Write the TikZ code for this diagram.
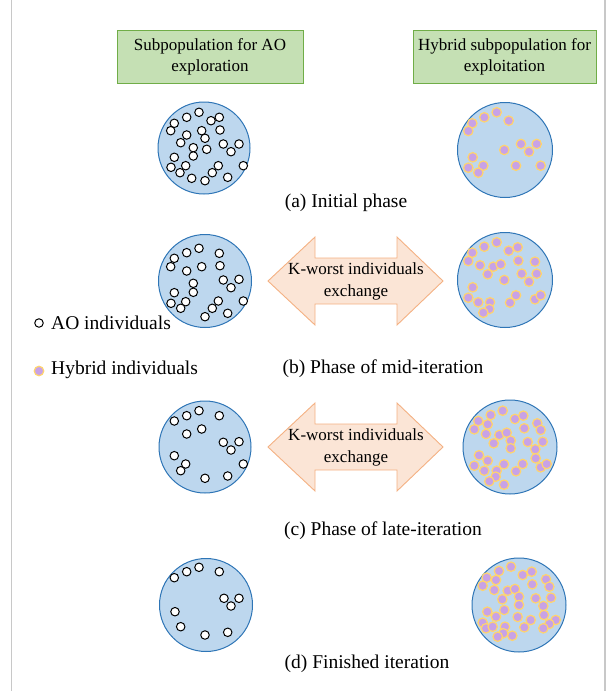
\documentclass[tikz,border=0pt]{standalone}
\usepackage{fontspec}
\setmainfont{Liberation Serif}
\definecolor{hdrfill}{HTML}{C5E0B4}
\definecolor{hdrline}{HTML}{70AD47}
\definecolor{popfill}{HTML}{BDD7EE}
\definecolor{popline}{HTML}{2E75B6}
\definecolor{arrfill}{HTML}{FBE5D6}
\definecolor{arrline}{HTML}{F4B183}
\definecolor{hybfill}{RGB}{200,162,230}
\definecolor{hybline}{RGB}{255,212,110}
\definecolor{frameline}{HTML}{C8C8C8}
\tikzset{
  header/.style={draw=hdrline, fill=hdrfill, line width=0.9pt, minimum width=186pt,
    minimum height=53pt, align=center, font=\fontsize{17}{21}\selectfont, inner sep=0pt},
  pop/.style={draw=popline, fill=popfill, line width=1pt, circle, minimum size=#1, inner sep=0pt},
  aodot/.style={draw=black, fill=white, line width=1pt, circle, minimum size=8.5pt, inner sep=0pt},
  hybdot/.style={draw=hybline, fill=hybfill, line width=1.2pt, circle, minimum size=9.5pt, inner sep=0pt},
  caption/.style={font=\fontsize{19.5}{23}\selectfont, inner sep=0pt},
  arrtext/.style={align=center, font=\fontsize{17}{22}\selectfont, inner sep=0pt},
  exchange/.style={draw=arrline, fill=arrfill, line width=0.9pt, line join=miter},
}
\begin{document}
\begin{tikzpicture}[x=1pt,y=-1pt]
\useasboundingbox (0,0) rectangle (611,691);
% page frame
\draw[frameline, line width=1.5pt] (11.5,0) -- (11.5,691);
\draw[frameline, line width=1.5pt] (605,0) -- (605,691);

% column headers
\node[header] (hL) at (210,57) {Subpopulation for AO\\exploration};
\node[header, minimum width=183pt] (hR) at (504.5,57) {Hybrid subpopulation for\\exploitation};

% populations
\node[pop=92pt] (L1) at (204,148) {};
\node[pop=95pt] (R1) at (505,150) {};
\node[pop=93pt] (L2) at (205,281) {};
\node[pop=95pt] (R2) at (505,280) {};
\node[pop=92pt] (L3) at (205,447) {};
\node[pop=94pt] (R3) at (510,447) {};
\node[pop=93pt] (L4) at (206,605) {};
\node[pop=94pt] (R4) at (519,605) {};

% AO individuals
\foreach \p in {(199,112.3),(186.7,117.3),(211,120.7),(219.3,117.3),(174.3,123.3),(170.7,130.7),(201.7,130.7),(220,130),(186.7,135),(205,138.3),(180.7,142.7),(223.3,144),(239,144),(193.3,147.7),(206.7,149.3),(231,151.7),(174.3,157.3),(193.3,156),(171,167.3),(185.7,165.7),(180,172.7),(218.3,165.7),(243.3,165.7),(212.3,172.7),(191.7,178.3),(205,180.7),(227.7,177.3)}
  \node[aodot] at \p {};
\foreach \p in {(199,248.3),(186.7,252.7),(219.3,253.3),(174.3,258.3),(170.7,266.7),(201.7,266.7),(220,265.7),(186.7,271),(193.3,283.3),(223.3,280),(239,279.3),(231,287.7),(193.3,292.3),(174.3,292.7),(171,303.3),(185.7,301.7),(180.7,308.3),(218.3,301),(243.3,301),(212.3,308.3),(205,316.7),(227.7,313.3)}
  \node[aodot] at \p {};
\foreach \p in {(199,410.7),(186.7,415.7),(219.3,415.7),(174.3,421),(201.7,429),(186.7,434),(223.3,442.3),(239,441.7),(231,450),(174.3,455.7),(185.7,464),(180.7,470.7),(243.3,464),(205,478.3),(227.7,476)}
  \node[aodot] at \p {};
\foreach \p in {(199,567.3),(186.7,571.7),(219.3,571.7),(174.3,577.7),(224,598.3),(239,598.3),(231,606),(175,611.7),(180.7,626.7),(205,635),(227.7,632.3)}
  \node[aodot] at \p {};

% hybrid individuals
\foreach \p in {(496.7,112.3),(484.3,117.3),(508.7,120.7),(472.3,123.3),(468.3,131),(521,144),(536.7,144),(504.3,150),(529,151.7),(472.7,157.3),(468.3,167.7),(483.3,165.7),(478.3,172.7),(516,165.7),(540.7,165.7)}
  \node[hybdot] at \p {};
\foreach \p in {(496.7,242.3),(484.3,246.7),(508.7,250.7),(517.7,247.3),(472.3,252.7),(468.3,261),(480,265.3),(493.3,266.7),(500.7,264.3),(518.3,260.7),(535,261.7),(487.7,274.3),(521.7,273.7),(536.7,273.7),(504.3,280),(529,281.7),(472.7,287.3),(468.3,297.7),(478.3,302.3),(490,302.3),(489.3,309),(483.3,312.7),(510,302.7),(516,295.3),(535,299.3),(540.7,295.3)}
  \node[hybdot] at \p {};
\foreach \p in {(502.7,410.7),(490.7,415),(515,419),(523.3,415.7),(478.3,421),(487.7,424.3),(474.3,429.3),(537.3,423.3),(524.3,428.3),(540.7,430),(486,434),(499.3,435),(506.7,432.7),(510.7,440.7),(493.7,443.3),(527.7,442),(542.7,441.7),(510.7,448.3),(535.3,449.3),(479,455.3),(487.7,460.7),(535.7,458.3),(474.3,465.7),(484.3,470.7),(496.7,470.7),(504,464.3),(522.7,464),(516,471.3),(540.7,467.3),(546.7,464),(495.7,476.7),(489.3,481.3),(504,484.7)}
  \node[hybdot] at \p {};
\foreach \p in {(511,566.7),(499,571),(522.7,575),(531.7,571.7),(486.7,577.7),(496,580),(482.7,585.7),(546,579.3),(532.3,584.3),(549.3,586.7),(494.3,590),(507.7,590.7),(515,589),(519,596.7),(502.3,599.3),(535.7,598.3),(551,597.7),(519,605),(543.3,606),(487.3,611.7),(504.3,610),(544,615),(496,616.7),(517.7,617),(482.7,622.7),(530.7,620),(555.7,620),(549.3,624),(486,628.3),(492.7,626.7),(505,626.7),(524.3,627.3),(543.3,628.3),(503.3,633.3),(497.7,636.7),(512.3,635.7)}
  \node[hybdot] at \p {};

% exchange arrows
\foreach \cy/\nm in {281/ex1, 447/ex2} {
  \draw[exchange] (268,\cy) -- (315,\cy-44) -- (315,\cy-23) -- (397,\cy-23) -- (397,\cy-44)
    -- (443,\cy) -- (397,\cy+44) -- (397,\cy+23) -- (315,\cy+23) -- (315,\cy+44) -- cycle;
  \node[arrtext] (\nm) at (356,\cy) {K-worst individuals\\exchange};
}

% phase captions
\node[caption] (ca) at (346,203) {(a) Initial phase};
\node[caption] (cb) at (383,369) {(b) Phase of mid-iteration};
\node[caption] (cc) at (383,531) {(c) Phase of late-iteration};
\node[caption] (cd) at (367,664) {(d) Finished iteration};

% legend
\node[aodot] (kA) at (39,323) {};
\node[caption, anchor=west] (tA) at (51,323) {AO individuals};
\node[hybdot] (kH) at (39,371) {};
\node[caption, anchor=west] (tH) at (51,370) {Hybrid individuals};
\end{tikzpicture}
\end{document}
